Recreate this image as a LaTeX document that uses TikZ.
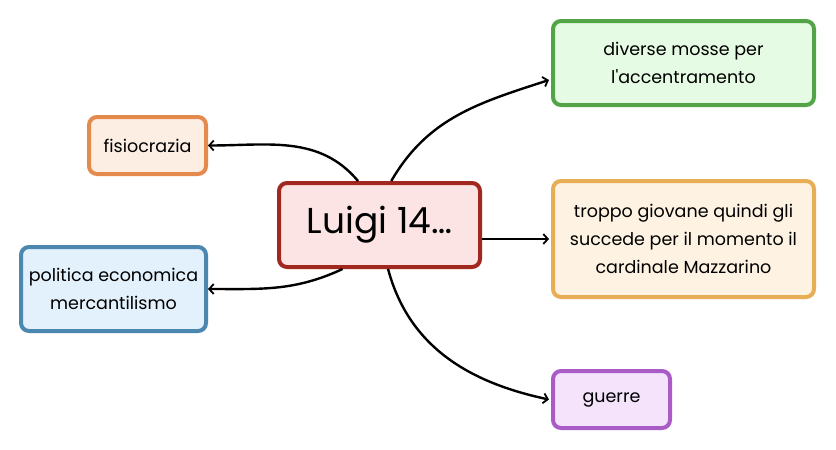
\documentclass[tikz,border=0pt]{standalone}
\usepackage{fontspec}
\setmainfont{Poppins}
\usetikzlibrary{arrows.meta}
\definecolor{cB}{HTML}{A0281E}\definecolor{cF}{HTML}{FDE4E4}
\definecolor{gB}{HTML}{52A447}\definecolor{gF}{HTML}{E5FBE3}
\definecolor{tB}{HTML}{E8AE55}\definecolor{tF}{HTML}{FEF3E2}
\definecolor{uB}{HTML}{A95CC6}\definecolor{uF}{HTML}{F4E3FB}
\definecolor{fB}{HTML}{E48A4D}\definecolor{fF}{HTML}{FDEEE4}
\definecolor{pB}{HTML}{4B87AE}\definecolor{pF}{HTML}{E3F1FC}
\tikzset{
  box/.style={draw=#1B, fill=#1F, line width=4pt, rounded corners=8pt, inner sep=0pt,
    align=center, font=\fontsize{17.5}{28}\selectfont, text=black},
  conn/.style={line width=2.4pt, -{Straight Barb[length=4.5pt,width=10pt,line width=1.8pt]}},
}
\begin{document}
\begin{tikzpicture}[x=1pt,y=-1pt]
\fill[white] (0,0) rectangle (836,450);
\node[box=c, minimum width=201pt, minimum height=84pt, font=\fontsize{36}{40}\selectfont] (c) at (379.5,225) {Luigi 14…};
\node[box=g, minimum width=261pt, minimum height=84pt] (g) at (683.5,63) {diverse mosse per\\l\textquotesingle accentramento};
\node[box=t, minimum width=261pt, minimum height=116pt] (t) at (683.5,239) {troppo giovane quindi gli\\succede per il momento il\\cardinale Mazzarino};
\node[box=u, minimum width=117pt, minimum height=57pt] (u) at (611.5,399.5) {guerre};
\node[box=f, minimum width=117pt, minimum height=57pt] (f) at (147.5,145.5) {fisiocrazia};
\node[box=p, minimum width=185pt, minimum height=84pt] (p) at (113.5,289) {politica economica\\mercantilismo};
\coordinate (gin) at ([yshift=-17pt]g.west);
\draw[conn] (c.116) to[out=130,in=0] (f.east);
\draw[conn] (c.230) to[out=205,in=0] (p.east);
\draw[conn] (c.75) to[out=60,in=198] ([xshift=-2pt]gin);
\draw[conn] (c.east |- t.west) -- ([xshift=-2pt]t.west);
\draw[conn] (c.281) to[out=-75,in=168] ([xshift=-2pt]u.west);
\end{tikzpicture}
\end{document}
